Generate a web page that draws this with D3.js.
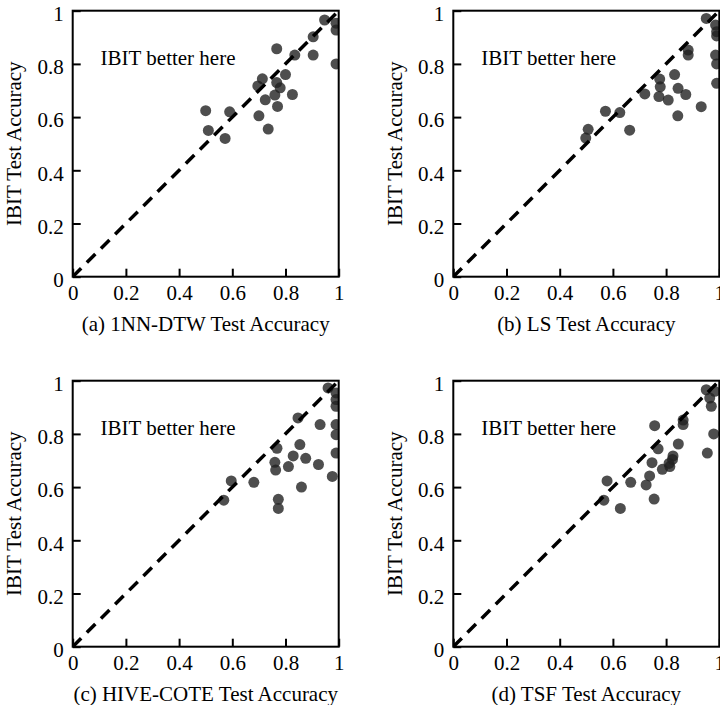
<!DOCTYPE html>
<html>
<head>
<meta charset="utf-8">
<script src="https://d3js.org/d3.v7.min.js"></script>
<style>
  body { margin: 0; background: #fff; }
  text { font-family: "Liberation Serif", "Times New Roman", serif; }
</style>
</head>
<body>
<script>
    // data
    var dtwX = [.947,.99,.99,.99,.904,.904,.835,.767,.80,.713,.696,.767,.78,.76,.826,.724,.77,.70,.735,.50,.59,.51,.573];
    var dtwY = [.965,.953,.927,.80,.902,.833,.833,.857,.76,.744,.717,.73,.71,.683,.685,.665,.64,.605,.555,.624,.62,.55,.52];

    var lsX = [.951,.986,.99,.99,.986,.99,.99,.883,.883,.832,.776,.778,.72,.773,.808,.845,.874,.932,.844,.572,.626,.663,.507,.498];
    var lsY = [.971,.946,.921,.905,.833,.80,.727,.852,.833,.76,.743,.714,.687,.677,.664,.708,.685,.639,.605,.622,.617,.551,.554,.521];

    var hcX = [.96,.99,.99,.99,.93,.99,.99,.99,.976,.847,.86,.768,.854,.829,.876,.76,.763,.811,.924,.596,.681,.568,.773,.773];
    var hcY = [.973,.954,.929,.904,.835,.835,.797,.728,.64,.86,.60,.746,.76,.717,.708,.693,.664,.677,.685,.623,.618,.551,.554,.52];

    var tsfX = [.951,.964,.97,.983,.979,.955,.864,.864,.757,.846,.77,.826,.824,.811,.814,.786,.747,.738,.725,.667,.578,.566,.628,.755];
    var tsfY = [.966,.935,.904,.96,.80,.728,.852,.835,.831,.762,.744,.717,.704,.689,.677,.667,.692,.642,.608,.618,.623,.551,.52,.555];

    var ticks = [0, 0.2, 0.4, 0.6, 0.8, 1];
    var captions = ["(a) 1NN-DTW Test Accuracy", "(b) LS Test Accuracy",
                    "(c) HIVE-COTE Test Accuracy", "(d) TSF Test Accuracy"];
    var yTitle = "IBIT Test Accuracy";
    var note = "IBIT better here";

    var panels = [[dtwX, dtwY], [lsX, lsY], [hcX, hcY], [tsfX, tsfY]];

    var size = 266,
        lefts = [72.7, 453.3],
        tops = [10.7, 380.7];

    var svg = d3.select("body").append("svg")
        .attr("width", 720)
        .attr("height", 705);

    var x = d3.scaleLinear().domain([0, 1]).range([0, size]);
    var y = d3.scaleLinear().domain([0, 1]).range([size, 0]);

    panels.forEach(function(p, i) {
        var g = svg.append("g")
            .attr("transform", "translate(" + lefts[i % 2] + "," + tops[Math.floor(i / 2)] + ")");

        g.append("clipPath").attr("id", "clip" + i)
            .append("rect").attr("width", size).attr("height", size);

        var xAxis = g.append("g")
            .attr("transform", "translate(0," + size + ")")
            .call(d3.axisBottom(x).tickValues(ticks).tickFormat(d => String(d))
                .tickSizeInner(-8).tickSizeOuter(0).tickPadding(8));
        var yAxis = g.append("g")
            .call(d3.axisLeft(y).tickValues(ticks).tickFormat(d => String(d))
                .tickSizeInner(-8).tickSizeOuter(0).tickPadding(9));

        [xAxis, yAxis].forEach(function(a) {
            a.attr("font-family", "Liberation Serif").attr("font-size", 21);
            a.select(".domain").remove();
            a.selectAll("line").attr("stroke", "#000").attr("stroke-width", 2);
            a.selectAll("text").attr("fill", "#000");
        });
        yAxis.selectAll("text").attr("dy", "0.47em");

        var pts = p[0].map((v, j) => ({x: v, y: p[1][j]}));

        g.append("g")
            .attr("clip-path", "url(#clip" + i + ")")
            .selectAll("circle")
            .data(pts)
            .enter().append("circle")
                .attr("cx", d => x(d.x))
                .attr("cy", d => y(d.y))
                .attr("r", 5.5)
                .attr("fill", "#222")
                .attr("fill-opacity", 0.8);

        g.append("line")
            .attr("x1", x(0)).attr("y1", y(0))
            .attr("x2", x(1)).attr("y2", y(1))
            .attr("stroke", "#000")
            .attr("stroke-width", 3.5)
            .attr("stroke-dasharray", "12,8")
            .attr("clip-path", "url(#clip" + i + ")");

        g.append("rect")
            .attr("width", size).attr("height", size)
            .attr("fill", "none")
            .attr("stroke", "#000")
            .attr("stroke-width", 2);

        g.append("text")
            .attr("x", x(0.105))
            .attr("y", y(0.796))
            .attr("font-size", 21)
            .text(note);

        g.append("text")
            .attr("x", size / 2)
            .attr("y", size + 54)
            .attr("text-anchor", "middle")
            .attr("font-size", 21)
            .text(captions[i]);

        g.append("text")
            .attr("transform", "translate(" + (21 - lefts[i % 2] + (i % 2) * 380.6) + "," + (size / 2) + ") rotate(-90)")
            .attr("text-anchor", "middle")
            .attr("font-size", 21)
            .text(yTitle);
    });
</script>
</body>
</html>
